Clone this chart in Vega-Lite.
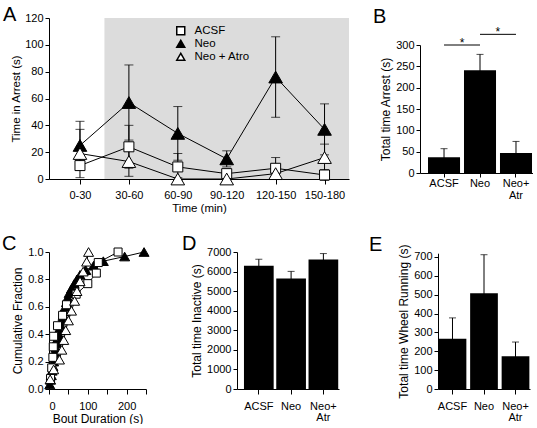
{
  "$schema": "https://vega.github.io/schema/vega-lite/v6.json",
  "padding": {"left": 2, "top": 5, "right": 0, "bottom": 0},
  "config": {
    "font": "Liberation Sans",
    "view": {"stroke": null},
    "axis": {"labelFontSize": 11, "titleFontSize": 12, "titleFontWeight": "normal", "labelColor": "#000", "titleColor": "#000", "domainColor": "#000", "tickColor": "#000", "tickSize": 4, "labelPadding": 2, "titlePadding": 3, "grid": false, "domainWidth": 1, "tickWidth": 1},
    "legend": {"orient": "none", "legendX": 126, "legendY": 7, "title": null, "labelFontSize": 11.5, "labelOffset": 8, "rowPadding": -1.5, "padding": 0, "symbolSize": 64, "labelColor": "#000"},
    "title": {"fontSize": 20, "fontWeight": "normal", "anchor": "start", "frame": "group", "baseline": "alphabetic", "offset": 0, "color": "#000"}
  },
  "datasets": {
    "arrest": [
      {"time": "0-30", "mid": 15, "group": "ACSF", "value": 10, "sem": 3},
      {"time": "30-60", "mid": 45, "group": "ACSF", "value": 24, "sem": 16},
      {"time": "60-90", "mid": 75, "group": "ACSF", "value": 9, "sem": 10},
      {"time": "90-120", "mid": 105, "group": "ACSF", "value": 4, "sem": 3},
      {"time": "120-150", "mid": 135, "group": "ACSF", "value": 8, "sem": 8},
      {"time": "150-180", "mid": 165, "group": "ACSF", "value": 3, "sem": 4},
      {"time": "0-30", "mid": 15, "group": "Neo", "value": 25, "sem": 18},
      {"time": "30-60", "mid": 45, "group": "Neo", "value": 57, "sem": 28},
      {"time": "60-90", "mid": 75, "group": "Neo", "value": 34, "sem": 20},
      {"time": "90-120", "mid": 105, "group": "Neo", "value": 15, "sem": 6},
      {"time": "120-150", "mid": 135, "group": "Neo", "value": 76, "sem": 30},
      {"time": "150-180", "mid": 165, "group": "Neo", "value": 37, "sem": 19},
      {"time": "0-30", "mid": 15, "group": "Neo + Atro", "value": 19, "sem": 18},
      {"time": "30-60", "mid": 45, "group": "Neo + Atro", "value": 13, "sem": 11},
      {"time": "60-90", "mid": 75, "group": "Neo + Atro", "value": 0, "sem": 1},
      {"time": "90-120", "mid": 105, "group": "Neo + Atro", "value": 0, "sem": 1},
      {"time": "120-150", "mid": 135, "group": "Neo + Atro", "value": 4, "sem": 4},
      {"time": "150-180", "mid": 165, "group": "Neo + Atro", "value": 16, "sem": 10}
    ],
    "bouts": [
      {"group": "Neo", "dur": 2, "frac": 0.033}, {"group": "Neo", "dur": 4, "frac": 0.067}, {"group": "Neo", "dur": 6, "frac": 0.1},
      {"group": "Neo", "dur": 8, "frac": 0.133}, {"group": "Neo", "dur": 10, "frac": 0.167}, {"group": "Neo", "dur": 12, "frac": 0.2},
      {"group": "Neo", "dur": 14, "frac": 0.233}, {"group": "Neo", "dur": 16, "frac": 0.267}, {"group": "Neo", "dur": 18, "frac": 0.3},
      {"group": "Neo", "dur": 20, "frac": 0.333}, {"group": "Neo", "dur": 22, "frac": 0.367}, {"group": "Neo", "dur": 25, "frac": 0.4},
      {"group": "Neo", "dur": 27, "frac": 0.433}, {"group": "Neo", "dur": 30, "frac": 0.467}, {"group": "Neo", "dur": 33, "frac": 0.5},
      {"group": "Neo", "dur": 36, "frac": 0.533}, {"group": "Neo", "dur": 39, "frac": 0.567}, {"group": "Neo", "dur": 42, "frac": 0.6},
      {"group": "Neo", "dur": 45, "frac": 0.633}, {"group": "Neo", "dur": 48, "frac": 0.667}, {"group": "Neo", "dur": 52, "frac": 0.7},
      {"group": "Neo", "dur": 58, "frac": 0.733}, {"group": "Neo", "dur": 65, "frac": 0.767}, {"group": "Neo", "dur": 72, "frac": 0.8},
      {"group": "Neo", "dur": 80, "frac": 0.833}, {"group": "Neo", "dur": 95, "frac": 0.867}, {"group": "Neo", "dur": 115, "frac": 0.9},
      {"group": "Neo", "dur": 140, "frac": 0.933}, {"group": "Neo", "dur": 195, "frac": 0.967}, {"group": "Neo", "dur": 245, "frac": 1.0},
      {"group": "ACSF", "dur": 4, "frac": 0.077}, {"group": "ACSF", "dur": 7, "frac": 0.154}, {"group": "ACSF", "dur": 10, "frac": 0.231},
      {"group": "ACSF", "dur": 11, "frac": 0.308}, {"group": "ACSF", "dur": 12, "frac": 0.385}, {"group": "ACSF", "dur": 22, "frac": 0.462},
      {"group": "ACSF", "dur": 35, "frac": 0.538}, {"group": "ACSF", "dur": 45, "frac": 0.615}, {"group": "ACSF", "dur": 70, "frac": 0.692},
      {"group": "ACSF", "dur": 100, "frac": 0.769}, {"group": "ACSF", "dur": 122, "frac": 0.846}, {"group": "ACSF", "dur": 127, "frac": 0.923},
      {"group": "ACSF", "dur": 178, "frac": 1.0},
      {"group": "Neo + Atro", "dur": 3, "frac": 0.071}, {"group": "Neo + Atro", "dur": 12, "frac": 0.143}, {"group": "Neo + Atro", "dur": 27, "frac": 0.214},
      {"group": "Neo + Atro", "dur": 33, "frac": 0.286}, {"group": "Neo + Atro", "dur": 38, "frac": 0.357}, {"group": "Neo + Atro", "dur": 43, "frac": 0.429},
      {"group": "Neo + Atro", "dur": 50, "frac": 0.5}, {"group": "Neo + Atro", "dur": 58, "frac": 0.571}, {"group": "Neo + Atro", "dur": 66, "frac": 0.643},
      {"group": "Neo + Atro", "dur": 72, "frac": 0.714}, {"group": "Neo + Atro", "dur": 80, "frac": 0.786}, {"group": "Neo + Atro", "dur": 88, "frac": 0.857},
      {"group": "Neo + Atro", "dur": 97, "frac": 0.929}, {"group": "Neo + Atro", "dur": 102, "frac": 1.0}
    ]
  },
  "vconcat": [
    {
      "hconcat": [
        {
          "width": 300, "height": 161,
          "title": {"text": "A", "dx": -46, "dy": 17},
          "data": {"name": "arrest"},
          "encoding": {
            "x": {"field": "mid", "type": "quantitative", "scale": {"domain": [-4, 180], "nice": false, "zero": false},
              "axis": {"values": [15, 45, 75, 105, 135, 165], "labelExpr": "(datum.value - 15) + '-' + (datum.value + 15)", "title": "Time (min)", "titleFontSize": 11.5, "tickSize": 5, "labelPadding": 5, "titlePadding": 2}},
            "y": {"field": "value", "type": "quantitative", "scale": {"domain": [0, 120], "nice": false},
              "axis": {"values": [0, 20, 40, 60, 80, 100, 120], "title": "Time in Arrest (s)", "titleFontSize": 11.5}}
          },
          "layer": [
            {
              "data": {"values": [{"start": 30, "end": 180}]},
              "mark": {"type": "rect", "color": "#dcdcdc"},
              "encoding": {
                "x": {"field": "start", "type": "quantitative", "scale": {"domain": [-4, 180], "nice": false, "zero": false},
                  "axis": {"values": [15, 45, 75, 105, 135, 165], "labelExpr": "(datum.value - 15) + '-' + (datum.value + 15)", "title": "Time (min)", "titleFontSize": 11.5, "tickSize": 5, "labelPadding": 5, "titlePadding": 2}},
                "x2": {"field": "end"},
                "y": null
              }
            },
            {
              "mark": {"type": "errorbar", "ticks": {"size": 9}, "color": "#000", "thickness": 1},
              "encoding": {
                "yError": {"field": "sem"},
                "detail": {"field": "group"}
              }
            },
            {
              "mark": {"type": "line", "color": "#000", "strokeWidth": 1},
              "encoding": {"detail": {"field": "group"}}
            },
            {
              "transform": [{"filter": "datum.group === 'ACSF'"}],
              "mark": {"type": "point", "filled": true, "stroke": "#000", "strokeWidth": 1, "opacity": 1, "size": 100},
              "encoding": {
                "shape": {"field": "group", "type": "nominal", "scale": {"domain": ["ACSF", "Neo", "Neo + Atro"], "range": ["square", "triangle-up", "triangle-up"]},
                  "legend": {"encode": {"symbols": {
                      "shape": {"value": {"signal": "datum.value === 'ACSF' ? 'M-2.2,0H-1.1M1.1,0H2.2M-1.1,-1.1H1.1V1.1H-1.1Z' : 'M-2.2,0.4H-1.2M1.2,0.4H2.2M0,-1.1L1.25,1.1H-1.25Z'"}},
                      "fill": {"value": {"signal": "datum.value === 'Neo' ? '#000' : '#fff'"}},
                      "stroke": {"value": "#000"}, "strokeWidth": {"value": 1}, "size": {"value": 64}, "opacity": {"value": 1}}}}},
                "fill": {"field": "group", "type": "nominal", "scale": {"domain": ["ACSF", "Neo", "Neo + Atro"], "range": ["#fff", "#000", "#fff"]},
                  "legend": {"encode": {"symbols": {
                      "shape": {"value": {"signal": "datum.value === 'ACSF' ? 'M-2.2,0H-1.1M1.1,0H2.2M-1.1,-1.1H1.1V1.1H-1.1Z' : 'M-2.2,0.4H-1.2M1.2,0.4H2.2M0,-1.1L1.25,1.1H-1.25Z'"}},
                      "fill": {"value": {"signal": "datum.value === 'Neo' ? '#000' : '#fff'"}},
                      "stroke": {"value": "#000"}, "strokeWidth": {"value": 1}, "size": {"value": 64}, "opacity": {"value": 1}}}}}
              }
            },
            {
              "transform": [{"filter": "datum.group !== 'ACSF'"}],
              "mark": {"type": "point", "filled": true, "stroke": "#000", "strokeWidth": 1, "opacity": 1, "size": 185},
              "encoding": {
                "shape": {"field": "group", "type": "nominal", "scale": {"domain": ["ACSF", "Neo", "Neo + Atro"], "range": ["square", "triangle-up", "triangle-up"]},
                  "legend": {"encode": {"symbols": {
                      "shape": {"value": {"signal": "datum.value === 'ACSF' ? 'M-2.2,0H-1.1M1.1,0H2.2M-1.1,-1.1H1.1V1.1H-1.1Z' : 'M-2.2,0.4H-1.2M1.2,0.4H2.2M0,-1.1L1.25,1.1H-1.25Z'"}},
                      "fill": {"value": {"signal": "datum.value === 'Neo' ? '#000' : '#fff'"}},
                      "stroke": {"value": "#000"}, "strokeWidth": {"value": 1}, "size": {"value": 64}, "opacity": {"value": 1}}}}},
                "fill": {"field": "group", "type": "nominal", "scale": {"domain": ["ACSF", "Neo", "Neo + Atro"], "range": ["#fff", "#000", "#fff"]},
                  "legend": {"encode": {"symbols": {
                      "shape": {"value": {"signal": "datum.value === 'ACSF' ? 'M-2.2,0H-1.1M1.1,0H2.2M-1.1,-1.1H1.1V1.1H-1.1Z' : 'M-2.2,0.4H-1.2M1.2,0.4H2.2M0,-1.1L1.25,1.1H-1.25Z'"}},
                      "fill": {"value": {"signal": "datum.value === 'Neo' ? '#000' : '#fff'"}},
                      "stroke": {"value": "#000"}, "strokeWidth": {"value": 1}, "size": {"value": 64}, "opacity": {"value": 1}}}}}
              }
            }
          ]
        },
        {
          "width": 113, "height": 155,
          "title": {"text": "B", "dx": -47, "dy": 12.5},
          "data": {"values": [
            {"cond": "ACSF", "value": 37, "sem": 20},
            {"cond": "Neo", "value": 241, "sem": 37},
            {"cond": "Neo+Atr", "value": 47, "sem": 27}
          ]},
          "encoding": {
            "x": {"field": "cond", "type": "nominal", "sort": null, "scale": {"paddingInner": 0.11, "paddingOuter": 0.125, "align": 0.89},
              "axis": {"labelAngle": 0, "title": null, "tickSize": 4, "labelPadding": 0, "labelExpr": "datum.value == 'Neo+Atr' ? ['Neo+', 'Atr'] : datum.value", "labelLineHeight": 12.5}},
            "y": {"field": "value", "type": "quantitative", "scale": {"domain": [0, 300], "nice": false, "range": [155, 27]},
              "axis": {"values": [0, 50, 100, 150, 200, 250, 300], "title": "Total time Arrest (s)"}}
          },
          "layer": [
            {"mark": {"type": "bar", "color": "#000"}},
            {
              "mark": {"type": "errorbar", "ticks": {"size": 7}, "color": "#000", "thickness": 1},
              "encoding": {"yError": {"field": "sem"}}
            },
            {
              "data": {"values": [{"from": "ACSF", "to": "Neo", "level": 300, "sig": "*"}, {"from": "Neo", "to": "Neo+Atr", "level": 325, "sig": "*"}]},
              "mark": {"type": "rule", "color": "#000", "strokeWidth": 1, "clip": false},
              "encoding": {
                "x": {"field": "from", "type": "nominal", "sort": null},
                "x2": {"field": "to"},
                "y": {"field": "level", "type": "quantitative"}
              }
            },
            {
              "data": {"values": [{"from": "ACSF", "to": "Neo", "level": 300, "sig": "*"}, {"from": "Neo", "to": "Neo+Atr", "level": 325, "sig": "*"}]},
              "mark": {"type": "text", "color": "#000", "fontSize": 12, "baseline": "alphabetic", "dy": 1.5, "clip": false},
              "encoding": {
                "x": {"field": "from", "type": "nominal", "sort": null, "bandPosition": 1.06},
                "y": {"field": "level", "type": "quantitative"},
                "text": {"field": "sig"}
              }
            }
          ]
        }
      ],
      "spacing": 24
    },
    {
      "hconcat": [
        {
          "width": 97, "height": 137,
          "title": {"text": "C", "dx": -47, "dy": 12},
          "data": {"name": "bouts"},
          "encoding": {
            "x": {"field": "dur", "type": "quantitative", "scale": {"domain": [0, 250], "nice": false},
              "axis": {"values": [0, 50, 100, 150, 200, 250], "labelExpr": "datum.value % 100 == 0 ? datum.label : ''", "title": "Bout Duration (s)", "tickSize": 5, "labelPadding": 6, "titlePadding": 2}},
            "y": {"field": "frac", "type": "quantitative", "scale": {"domain": [0, 1], "nice": false},
              "axis": {"values": [0, 0.2, 0.4, 0.6, 0.8, 1.0], "format": ".1f", "title": "Cumulative Fraction"}}
          },
          "layer": [
            {
              "mark": {"type": "line", "color": "#000", "strokeWidth": 1},
              "encoding": {"detail": {"field": "group"}, "order": {"field": "frac"}}
            },
            {
              "transform": [{"filter": "datum.group === 'Neo'"}],
              "mark": {"type": "point", "shape": "triangle-up", "filled": true, "fill": "#000", "stroke": "#000", "strokeWidth": 1, "opacity": 1, "size": 100}
            },
            {
              "transform": [{"filter": "datum.group === 'ACSF'"}],
              "mark": {"type": "point", "shape": "square", "filled": true, "fill": "#fff", "stroke": "#000", "strokeWidth": 1, "opacity": 1, "size": 64}
            },
            {
              "transform": [{"filter": "datum.group === 'Neo + Atro'"}],
              "mark": {"type": "point", "shape": "triangle-up", "filled": true, "fill": "#fff", "stroke": "#000", "strokeWidth": 1, "opacity": 1, "size": 100}
            }
          ]
        },
        {
          "width": 102, "height": 137,
          "title": {"text": "D", "dx": -55, "dy": 12},
          "data": {"values": [
            {"cond": "ACSF", "value": 6300, "sem": 330},
            {"cond": "Neo", "value": 5650, "sem": 360},
            {"cond": "Neo+Atr", "value": 6620, "sem": 300}
          ]},
          "encoding": {
            "x": {"field": "cond", "type": "nominal", "sort": null, "scale": {"paddingInner": 0.08, "paddingOuter": 0.12, "align": 0.9},
              "axis": {"labelAngle": 0, "title": null, "tickSize": 5, "labelPadding": 6, "labelExpr": "datum.value == 'Neo+Atr' ? ['Neo+', 'Atr'] : datum.value", "labelLineHeight": 11}},
            "y": {"field": "value", "type": "quantitative", "scale": {"domain": [0, 7000], "nice": false},
              "axis": {"values": [0, 1000, 2000, 3000, 4000, 5000, 6000, 7000], "format": "d", "title": "Total time Inactive (s)"}}
          },
          "layer": [
            {"mark": {"type": "bar", "color": "#000"}},
            {
              "mark": {"type": "errorbar", "ticks": {"size": 7}, "color": "#000", "thickness": 1},
              "encoding": {"yError": {"field": "sem"}}
            }
          ]
        },
        {
          "width": 92, "height": 137,
          "title": {"text": "E", "dx": -69, "dy": 15},
          "data": {"values": [
            {"cond": "ACSF", "value": 267, "sem": 110},
            {"cond": "Neo", "value": 507, "sem": 205},
            {"cond": "Neo+Atr", "value": 173, "sem": 76}
          ]},
          "encoding": {
            "x": {"field": "cond", "type": "nominal", "sort": null, "scale": {"paddingInner": 0.12, "paddingOuter": 0.02},
              "axis": {"labelAngle": 0, "title": null, "tickSize": 5, "labelPadding": 6, "labelExpr": "datum.value == 'Neo+Atr' ? ['Neo+', 'Atr'] : datum.value", "labelLineHeight": 11}},
            "y": {"field": "value", "type": "quantitative", "scale": {"domain": [0, 720], "nice": false, "range": [137, 1.2]},
              "axis": {"values": [0, 100, 200, 300, 400, 500, 600, 700], "format": "d", "title": "Total time Wheel Running (s)"}}
          },
          "layer": [
            {"mark": {"type": "bar", "color": "#000"}},
            {
              "mark": {"type": "errorbar", "ticks": {"size": 7}, "color": "#000", "thickness": 1},
              "encoding": {"yError": {"field": "sem"}}
            }
          ]
        }
      ],
      "spacing": 30
    }
  ],
  "spacing": 19
}
